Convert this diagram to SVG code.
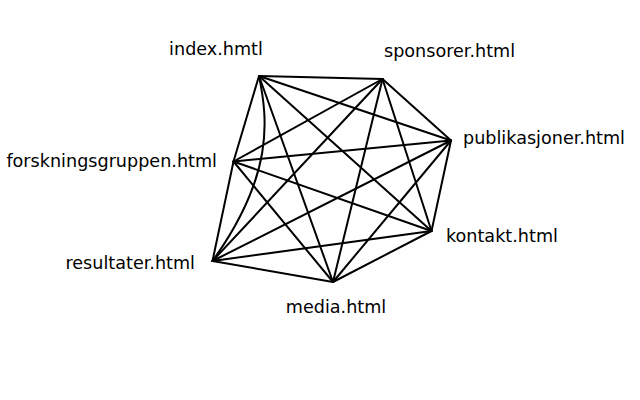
<svg xmlns="http://www.w3.org/2000/svg" width="640" height="400" viewBox="0 0 640 400">
<style>
.e{stroke:#000;stroke-width:2;fill:none;stroke-linecap:round}
.l{font-family:"DejaVu Sans",sans-serif;font-size:17.6px;fill:#000}
</style>
<rect width="640" height="400" fill="#fff"/>
<g id="edges">
<line class="e" x1="259" y1="76" x2="382.5" y2="79"/>
<line class="e" x1="259" y1="76" x2="451" y2="140.5"/>
<line class="e" x1="259" y1="76" x2="431.5" y2="231"/>
<line class="e" x1="259" y1="76" x2="333" y2="282"/>
<path class="e" d="M259,76 C268,120 274,175 212.5,261"/>
<line class="e" x1="259" y1="76" x2="233.5" y2="161.5"/>
<line class="e" x1="382.5" y1="79" x2="451" y2="140.5"/>
<line class="e" x1="382.5" y1="79" x2="431.5" y2="231"/>
<line class="e" x1="382.5" y1="79" x2="333" y2="282"/>
<line class="e" x1="382.5" y1="79" x2="212.5" y2="261"/>
<line class="e" x1="382.5" y1="79" x2="233.5" y2="161.5"/>
<line class="e" x1="451" y1="140.5" x2="431.5" y2="231"/>
<line class="e" x1="451" y1="140.5" x2="333" y2="282"/>
<line class="e" x1="451" y1="140.5" x2="212.5" y2="261"/>
<line class="e" x1="451" y1="140.5" x2="233.5" y2="161.5"/>
<line class="e" x1="431.5" y1="231" x2="333" y2="282"/>
<line class="e" x1="431.5" y1="231" x2="212.5" y2="261"/>
<line class="e" x1="431.5" y1="231" x2="233.5" y2="161.5"/>
<line class="e" x1="333" y1="282" x2="212.5" y2="261"/>
<line class="e" x1="333" y1="282" x2="233.5" y2="161.5"/>
<line class="e" x1="212.5" y1="261" x2="233.5" y2="161.5"/>
</g>
<g id="index"><text class="l" x="216" y="55" text-anchor="middle">index.hmtl</text></g>
<g id="sponsorer"><text class="l" x="384" y="57">sponsorer.html</text></g>
<g id="publikasjoner"><text class="l" x="463" y="144">publikasjoner.html</text></g>
<g id="kontakt"><text class="l" x="446" y="242">kontakt.html</text></g>
<g id="media"><text class="l" x="336" y="313" text-anchor="middle">media.html</text></g>
<g id="resultater"><text class="l" x="195" y="269" text-anchor="end">resultater.html</text></g>
<g id="forskningsgruppen"><text class="l" x="217" y="167" text-anchor="end">forskningsgruppen.html</text></g>
</svg>
